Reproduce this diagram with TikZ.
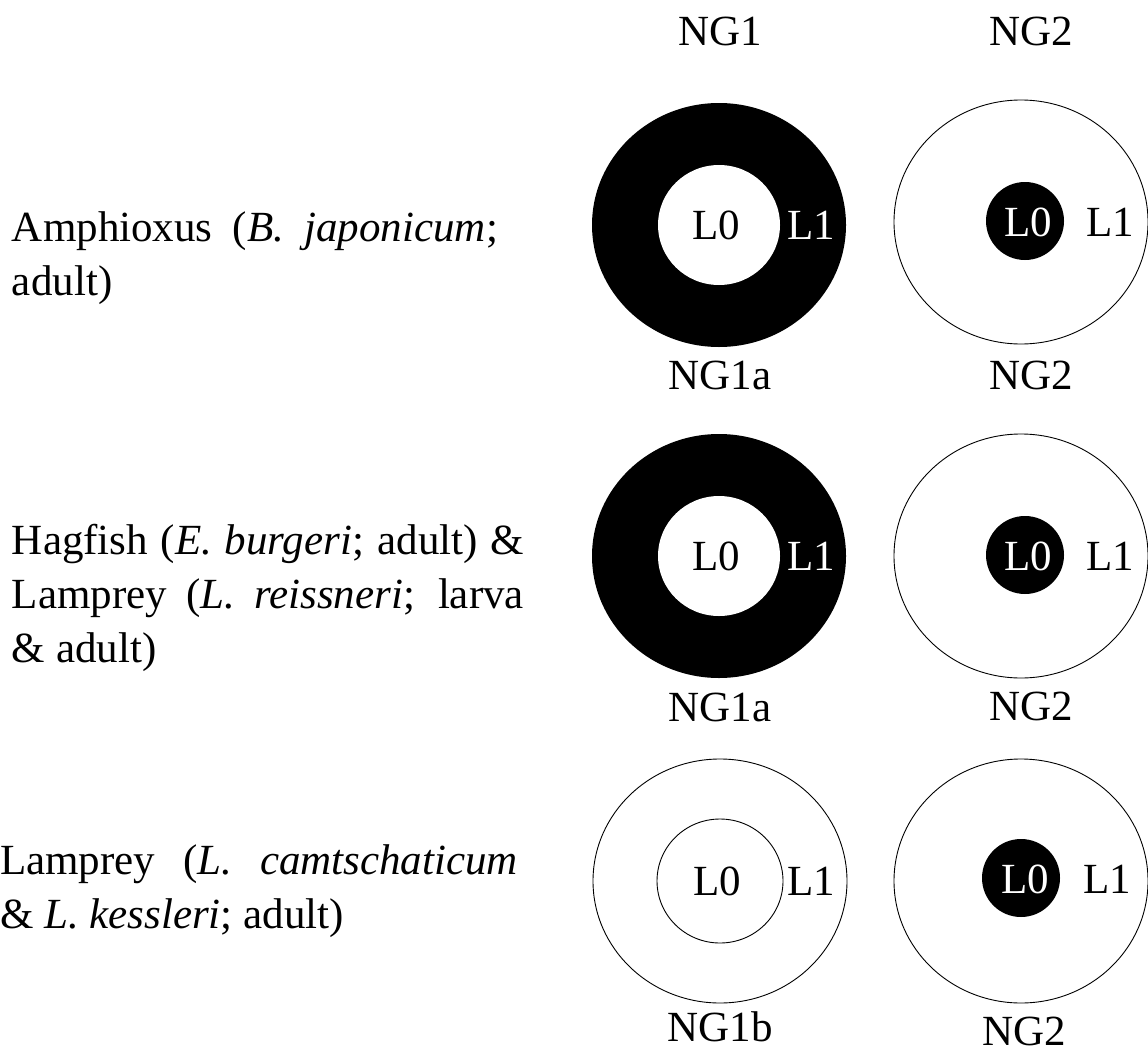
\documentclass[tikz,border=0pt]{standalone}
\usepackage{fontspec}
\setmainfont{Liberation Serif}
\usetikzlibrary{shapes.geometric}
% justified species text without hyphenation
\newcommand\nohyph{\hyphenpenalty=10000 \exhyphenpenalty=10000 \tolerance=10000 \emergencystretch=20pt\relax}
\begin{document}
\begin{tikzpicture}[x=1pt,y=-1pt,
  every node/.style={inner sep=0pt, outer sep=0pt,
    font=\fontsize{43}{54}\selectfont},
  ring/.style={ellipse, minimum width=254pt, minimum height=244pt, line width=0.9pt},
  core/.style={ellipse, minimum width=122pt, minimum height=120pt, line width=0.9pt},
  dotcore/.style={circle, minimum size=78pt, fill=black},
  lab/.style={anchor=base},
  species/.style={anchor=base west, align=justify}]
\useasboundingbox (0,0) rectangle (1148,1049);

% column headers
\node[lab] (h1) at (720,46) {NG1};
\node[lab] (h2) at (1031,46) {NG2};

% species descriptions
\node[species, text width=486pt] (s1) at (12,241)
  {\nohyph Amphioxus (\textit{B. japonicum}; \linebreak adult)};
\node[species, text width=512pt] (s2) at (12,554)
  {\nohyph Hagfish (\textit{E. burgeri}; adult) \& \linebreak Lamprey (\textit{L. reissneri}; larva \linebreak \& adult)};
\node[species, text width=518pt] (s3) at (0,874)
  {\nohyph Lamprey (\textit{L. camtschaticum} \linebreak \& \textit{L. kessleri}; adult)};

% row 1: NG1a and NG2
\node[ring, fill=black] (r1a) at (719,225) {};
\node[core, fill=white] (c1a) at (719,225) {};
\node[lab] (l01a) at (716,239) {L0};
\node[lab, text=white] (l11a) at (811,239) {L1};
\node[lab] (b1a) at (720,389) {NG1a};

\node[ring, draw=black] (r1b) at (1021,222) {};
\node[dotcore] (c1b) at (1025,221) {};
\node[lab, text=white] (l01b) at (1028,236) {L0};
\node[lab] (l11b) at (1110,236) {L1};
\node[lab] (b1b) at (1031,389) {NG2};

% row 2: NG1a and NG2
\node[ring, fill=black] (r2a) at (719,556) {};
\node[core, fill=white] (c2a) at (719,556) {};
\node[lab] (l02a) at (716,570) {L0};
\node[lab, text=white] (l12a) at (811,570) {L1};
\node[lab] (b2a) at (720,721) {NG1a};

\node[ring, draw=black] (r2b) at (1021,556) {};
\node[dotcore] (c2b) at (1025,555) {};
\node[lab, text=white] (l02b) at (1028,570) {L0};
\node[lab] (l12b) at (1110,570) {L1};
\node[lab] (b2b) at (1031,720) {NG2};

% row 3: NG1b and NG2
\node[ring, draw=black] (r3a) at (720,881) {};
\node[core, draw=black, minimum width=126pt, minimum height=124pt] (c3a) at (720,881) {};
\node[lab] (l03a) at (717,895) {L0};
\node[lab] (l13a) at (811,895) {L1};
\node[lab] (b3a) at (720,1041) {NG1b};

\node[ring, draw=black] (r3b) at (1021,881) {};
\node[dotcore] (c3b) at (1021,878) {};
\node[lab, text=white] (l03b) at (1025,893) {L0};
\node[lab] (l13b) at (1107,893) {L1};
\node[lab] (b3b) at (1024,1045) {NG2};
\end{tikzpicture}
\end{document}
